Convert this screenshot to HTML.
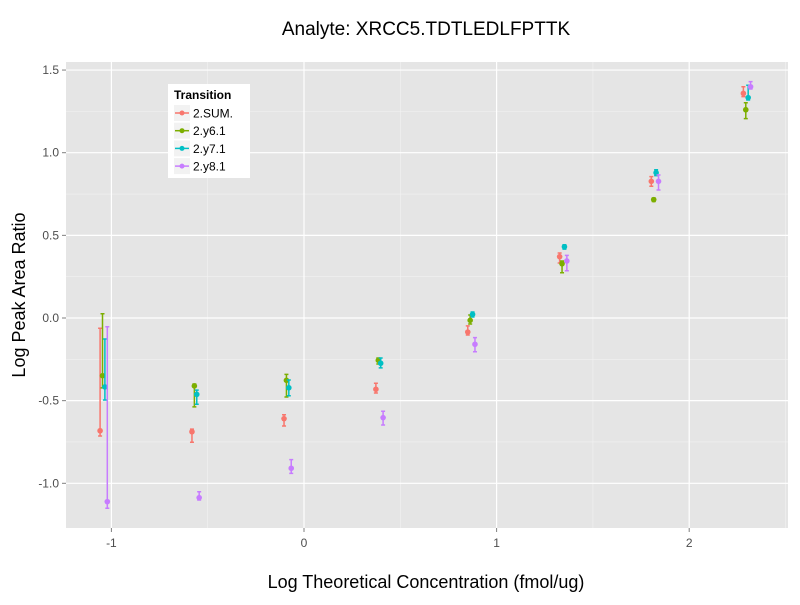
<!DOCTYPE html>
<html><head><meta charset="utf-8"><style>
body{margin:0;background:#fff;font-family:"Liberation Sans",sans-serif}
svg text{font-family:"Liberation Sans",sans-serif}
</style></head><body>
<svg id="chart" width="800" height="600">
<rect x="0" y="0" width="800" height="600" fill="#fff"/>
<text x="426" y="35" font-size="19" text-anchor="middle" fill="#000">Analyte: XRCC5.TDTLEDLFPTTK</text>
<rect x="66" y="62" width="722" height="466" fill="#E5E5E5"/>
<g id="grid"></g>
<g id="axes"></g>
<g id="marks"></g>
<text x="426" y="588" font-size="18" text-anchor="middle">Log Theoretical Concentration (fmol/ug)</text>
<text transform="translate(25,295) rotate(-90)" font-size="18" text-anchor="middle">Log Peak Area Ratio</text>
<g id="legend">
<rect x="168" y="84" width="82" height="94" fill="#fff"/>
<text x="174" y="99" font-size="12" font-weight="bold">Transition</text>
</g>
</svg>
<script>
const concentrations = [-1.04, -0.563, -0.085, 0.392, 0.869, 1.346, 1.822, 2.30];
const seriesNames = ["2.SUM.", "2.y6.1", "2.y7.1", "2.y8.1"];
const seriesColors = ["#F8766D", "#7CAE00", "#00BFC4", "#C77CFF"];
const sumValues = [-0.682, -0.688, -0.609, -0.431, -0.085, 0.371, 0.827, 1.359];
const sumLow = [-0.714, -0.752, -0.653, -0.454, -0.103, 0.333, 0.797, 1.339];
const sumHigh = [-0.062, -0.672, -0.585, -0.395, -0.048, 0.393, 0.855, 1.399];
const y6Values = [-0.349, -0.411, -0.377, -0.256, -0.014, 0.328, 0.716, 1.260];
const y6Low = [-0.423, -0.538, -0.478, -0.278, -0.036, 0.274, 0.705, 1.206];
const y6High = [0.026, -0.399, -0.341, -0.242, 0.018, 0.345, 0.726, 1.302];
const y7Values = [-0.417, -0.462, -0.422, -0.274, 0.022, 0.431, 0.879, 1.333];
const y7Low = [-0.496, -0.522, -0.470, -0.302, 0.006, 0.417, 0.861, 1.319];
const y7High = [-0.127, -0.436, -0.375, -0.242, 0.036, 0.443, 0.897, 1.408];
const y8Values = [-1.111, -1.087, -0.909, -0.603, -0.159, 0.345, 0.827, 1.399];
const y8Low = [-1.151, -1.101, -0.940, -0.647, -0.204, 0.286, 0.774, 1.385];
const y8High = [-0.053, -1.051, -0.857, -0.564, -0.119, 0.379, 0.865, 1.430];
const xTicks = [-1, 0, 1, 2];
const yTicks = [-1.0, -0.5, 0.0, 0.5, 1.0, 1.5];
const xTickLabels = ["-1", "0", "1", "2"];
const yTickLabels = ["-1.0", "-0.5", "0.0", "0.5", "1.0", "1.5"];

const NS = "http://www.w3.org/2000/svg";
const X = v => 304 + v * 192.6;
const Y = v => 318 - v * 165.3;
function mk(tag, attrs, parent) {
  const e = document.createElementNS(NS, tag);
  for (const k in attrs) e.setAttribute(k, attrs[k]);
  parent.appendChild(e);
  return e;
}
const grid = document.getElementById('grid');
const axes = document.getElementById('axes');
const marks = document.getElementById('marks');
for (let i = 0; i < xTicks.length; i++) {
  const v = xTicks[i] + 0.5;
  if (X(v) < 66 || X(v) > 788) continue;
  const l = mk('line', {x1: X(v), x2: X(v), y1: 62, y2: 528, stroke: '#F2F2F2', 'stroke-width': 0.6}, grid);
  
  
}
for (let i = 0; i < yTicks.length - 1; i++) {
  const v = (yTicks[i] + yTicks[i + 1]) / 2;
  const l = mk('line', {x1: 66, x2: 788, y1: Y(v), y2: Y(v), stroke: '#F2F2F2', 'stroke-width': 0.6}, grid);
  
  
}
xTicks.forEach((t, i) => {
  const l = mk('line', {x1: X(t), x2: X(t), y1: 62, y2: 528, stroke: '#fff', 'stroke-width': 1.2}, grid);
  
  
  const tk = mk('line', {x1: X(t), x2: X(t), y1: 528, y2: 532, stroke: '#7f7f7f'}, axes);
  
  
  const tx = mk('text', {x: X(t), y: 547, 'font-size': 12, 'text-anchor': 'middle', fill: '#4d4d4d'}, axes);
  tx.textContent = xTickLabels[i];
  
  
});
yTicks.forEach((t, i) => {
  const l = mk('line', {x1: 66, x2: 788, y1: Y(t), y2: Y(t), stroke: '#fff', 'stroke-width': 1.2}, grid);
  
  
  const tk = mk('line', {x1: 62, x2: 66, y1: Y(t), y2: Y(t), stroke: '#7f7f7f'}, axes);
  
  
  const tx = mk('text', {x: 59, y: Y(t) + 4, 'font-size': 12, 'text-anchor': 'end', fill: '#4d4d4d'}, axes);
  tx.textContent = yTickLabels[i];
  
  
});
const vals = [sumValues, y6Values, y7Values, y8Values];
const lows = [sumLow, y6Low, y7Low, y8Low];
const highs = [sumHigh, y6High, y7High, y8High];
const dodge = [-0.0187, -0.0062, 0.0062, 0.0187];
vals.forEach((series, s) => {
  const g = mk('g', {}, marks);
  
  
  series.forEach((v, i) => {
    const cx = X(concentrations[i] + dodge[s]);
    const c = seriesColors[s];
    const e = mk('path', {d: `M${cx-2},${Y(highs[s][i])}H${cx+2}M${cx},${Y(highs[s][i])}V${Y(lows[s][i])}M${cx-2},${Y(lows[s][i])}H${cx+2}`, stroke: c, 'stroke-width': 1.5, fill: 'none'}, g);
    
    
    const p = mk('circle', {cx: cx, cy: Y(v), r: 2.8, fill: c}, g);
    
    
  });
});
const legend = document.getElementById('legend');
seriesNames.forEach((n, i) => {
  const y = 113 + i * 17.7;
  const k = mk('rect', {x: 174, y: y - 8, width: 16, height: 16, fill: '#F2F2F2'}, legend);
  
  
  const l = mk('line', {x1: 175, x2: 189, y1: y, y2: y, stroke: seriesColors[i], 'stroke-width': 1.5}, legend);
  
  
  const c = mk('circle', {cx: 182, cy: y, r: 2.5, fill: seriesColors[i]}, legend);
  
  
  const t = mk('text', {x: 193, y: y + 4.5, 'font-size': 12}, legend);
  t.textContent = n;
  
  
});
</script>
</body></html>
